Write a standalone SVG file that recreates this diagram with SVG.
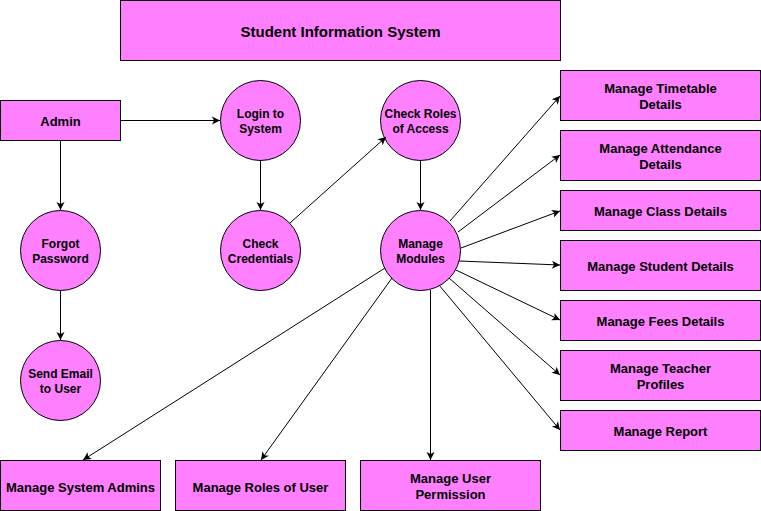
<svg xmlns="http://www.w3.org/2000/svg" width="761" height="511" viewBox="0 0 761 511">
<defs>
<marker id="arr" markerUnits="userSpaceOnUse" markerWidth="10" markerHeight="10" refX="8" refY="4" orient="auto" overflow="visible">
<path d="M0,0 L8,4 L0,8 L2,4 Z" fill="#000"/>
</marker>
<style>
.n{fill:#ff80ff;stroke:#000;stroke-width:1}
.t{font-family:"Liberation Sans",Arial,sans-serif;font-weight:bold;font-size:13px;fill:#000;text-anchor:middle}
.c{font-size:12px}
.e{fill:none;stroke:#000;stroke-width:1;marker-end:url(#arr)}
</style>
</defs>
<rect width="761" height="511" fill="#fff"/>
<g id="title"><rect class="n" x="120.5" y="0.5" width="440" height="60"/><text class="t" x="340.5" y="36.5" style="font-size:15px">Student Information System</text></g>
<g id="admin"><rect class="n" x="0.5" y="100.5" width="120" height="40"/><text class="t" x="60.5" y="125.5">Admin</text></g>
<g id="login"><circle class="n" cx="260.5" cy="120.5" r="40"/><text class="t c" x="260.5" y="118">Login to</text><text class="t c" x="260.5" y="133">System</text></g>
<g id="checkroles"><circle class="n" cx="420.5" cy="120.5" r="40"/><text class="t c" x="420.5" y="118">Check Roles</text><text class="t c" x="420.5" y="133">of Access</text></g>
<g id="forgot"><circle class="n" cx="60.5" cy="250.5" r="40"/><text class="t c" x="60.5" y="248">Forgot</text><text class="t c" x="60.5" y="263">Password</text></g>
<g id="checkcred"><circle class="n" cx="260.5" cy="250.5" r="40"/><text class="t c" x="260.5" y="248">Check</text><text class="t c" x="260.5" y="263">Credentials</text></g>
<g id="modules"><circle class="n" cx="420.5" cy="250.5" r="40"/><text class="t c" x="420.5" y="248">Manage</text><text class="t c" x="420.5" y="263">Modules</text></g>
<g id="sendemail"><circle class="n" cx="60.5" cy="380.5" r="40"/><text class="t c" x="60.5" y="378">Send Email</text><text class="t c" x="60.5" y="393">to User</text></g>
<g id="timetable"><rect class="n" x="560.5" y="70.5" width="200" height="50"/><text class="t" x="660.5" y="92.5">Manage Timetable</text><text class="t" x="660.5" y="108.5">Details</text></g>
<g id="attendance"><rect class="n" x="560.5" y="130.5" width="200" height="50"/><text class="t" x="660.5" y="152.5">Manage Attendance</text><text class="t" x="660.5" y="168.5">Details</text></g>
<g id="class"><rect class="n" x="560.5" y="190.5" width="200" height="40"/><text class="t" x="660.5" y="215.5">Manage Class Details</text></g>
<g id="student"><rect class="n" x="560.5" y="240.5" width="200" height="50"/><text class="t" x="660.5" y="270.5">Manage Student Details</text></g>
<g id="fees"><rect class="n" x="560.5" y="300.5" width="200" height="40"/><text class="t" x="660.5" y="325.5">Manage Fees Details</text></g>
<g id="teacher"><rect class="n" x="560.5" y="350.5" width="200" height="50"/><text class="t" x="660.5" y="372.5">Manage Teacher</text><text class="t" x="660.5" y="388.5">Profiles</text></g>
<g id="report"><rect class="n" x="560.5" y="410.5" width="200" height="40"/><text class="t" x="660.5" y="435.5">Manage Report</text></g>
<g id="sysadmins"><rect class="n" x="0.5" y="460.5" width="160" height="50"/><text class="t" x="80.5" y="491.5">Manage System Admins</text></g>
<g id="roles"><rect class="n" x="175.5" y="460.5" width="170" height="50"/><text class="t" x="260.5" y="491.5">Manage Roles of User</text></g>
<g id="permission"><rect class="n" x="360.5" y="460.5" width="180" height="50"/><text class="t" x="450.5" y="482.5">Manage User</text><text class="t" x="450.5" y="498.5">Permission</text></g>
<g id="connectors">
<line class="e" x1="120.5" y1="120.5" x2="220" y2="120.5"/>
<line class="e" x1="60.5" y1="140.5" x2="60.5" y2="210"/>
<line class="e" x1="60.5" y1="290.5" x2="60.5" y2="340"/>
<line class="e" x1="260.5" y1="160.5" x2="260.5" y2="210"/>
<line class="e" x1="420.5" y1="160.5" x2="420.5" y2="210"/>
<line class="e" x1="290" y1="223" x2="386" y2="137"/>
<line class="e" x1="450" y1="221" x2="560" y2="96"/>
<line class="e" x1="458" y1="232" x2="560" y2="155"/>
<line class="e" x1="461" y1="248" x2="560" y2="211"/>
<line class="e" x1="459" y1="261" x2="560" y2="265"/>
<line class="e" x1="456" y1="270" x2="560" y2="320"/>
<line class="e" x1="449" y1="278" x2="560" y2="375"/>
<line class="e" x1="439" y1="285" x2="560" y2="430"/>
<line class="e" x1="430.5" y1="290" x2="430.5" y2="460"/>
<line class="e" x1="385" y1="268" x2="83" y2="460"/>
<line class="e" x1="392" y1="278" x2="261" y2="460"/>
</g>
</svg>
